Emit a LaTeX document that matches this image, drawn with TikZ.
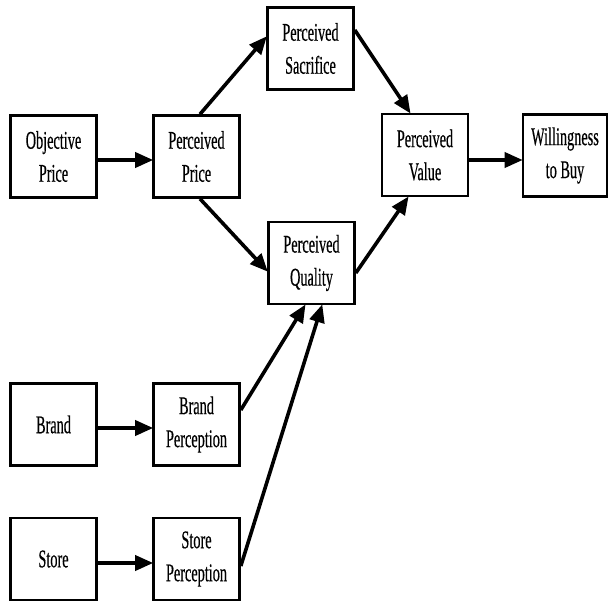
\documentclass[tikz,border=0pt]{standalone}
\usepackage{fontspec}
\setmainfont{Liberation Serif}[FakeStretch=0.56,FakeBold=0.4]
\usetikzlibrary{arrows.meta}
\begin{document}
\begin{tikzpicture}[x=1pt,y=-1pt,
  box/.style={draw, line width=2.6pt, minimum width=86pt, minimum height=82pt,
    align=center, inner sep=0pt, font=\fontsize{25.5}{33}\selectfont},
  link/.style={line width=3.6pt, -{Triangle[length=18pt,width=15pt]}, shorten >=-1pt}]
\useasboundingbox (0,0) rectangle (608,602);
% first column: sources
\node[box] (obj)   at (53.5,156.5) {Objective\\Price};
\node[box] (brand) at (53.5,424.5) {Brand};
\node[box] (store) at (53.5,559)   {Store};
% second column: perceptions
\node[box] (pprice) at (196.5,156.5) {Perceived\\Price};
\node[box] (bperc)  at (196.5,424.5) {Brand\\Perception};
\node[box] (sperc)  at (196.5,559)   {Store\\Perception};
% third column
\node[box] (sacr) at (310.5,48.5) {Perceived\\Sacrifice};
\node[box] (qual) at (311.5,263)  {Perceived\\Quality};
% value and outcome
\node[box] (value) at (425,155) {Perceived\\Value};
\node[box, minimum width=84pt] (will) at (565,155.5) {Willingness\\to Buy};
% connectors
\draw[link] (obj.east |- 0,160) -- (pprice.west |- 0,160);
\draw[link] (pprice.north -| 200,0) -- (sacr.west |- 0,37);
\draw[link] (pprice.south -| 200,0) -- (qual.west |- 0,271);
\draw[link] (sacr.east |- 0,30) -- (value.north -| 410,0);
\draw[link] (qual.east |- 0,273) -- (value.south -| 408,0);
\draw[link] (value.east |- 0,160) -- (will.west |- 0,160);
\draw[link] (brand.east |- 0,428) -- (bperc.west |- 0,428);
\draw[link] (store.east |- 0,563) -- (sperc.west |- 0,563);
\draw[link] (bperc.east |- 0,410) -- (qual.south -| 305,0);
\draw[link] (sperc.east |- 0,566) -- (qual.south -| 322,0);
\end{tikzpicture}
\end{document}
